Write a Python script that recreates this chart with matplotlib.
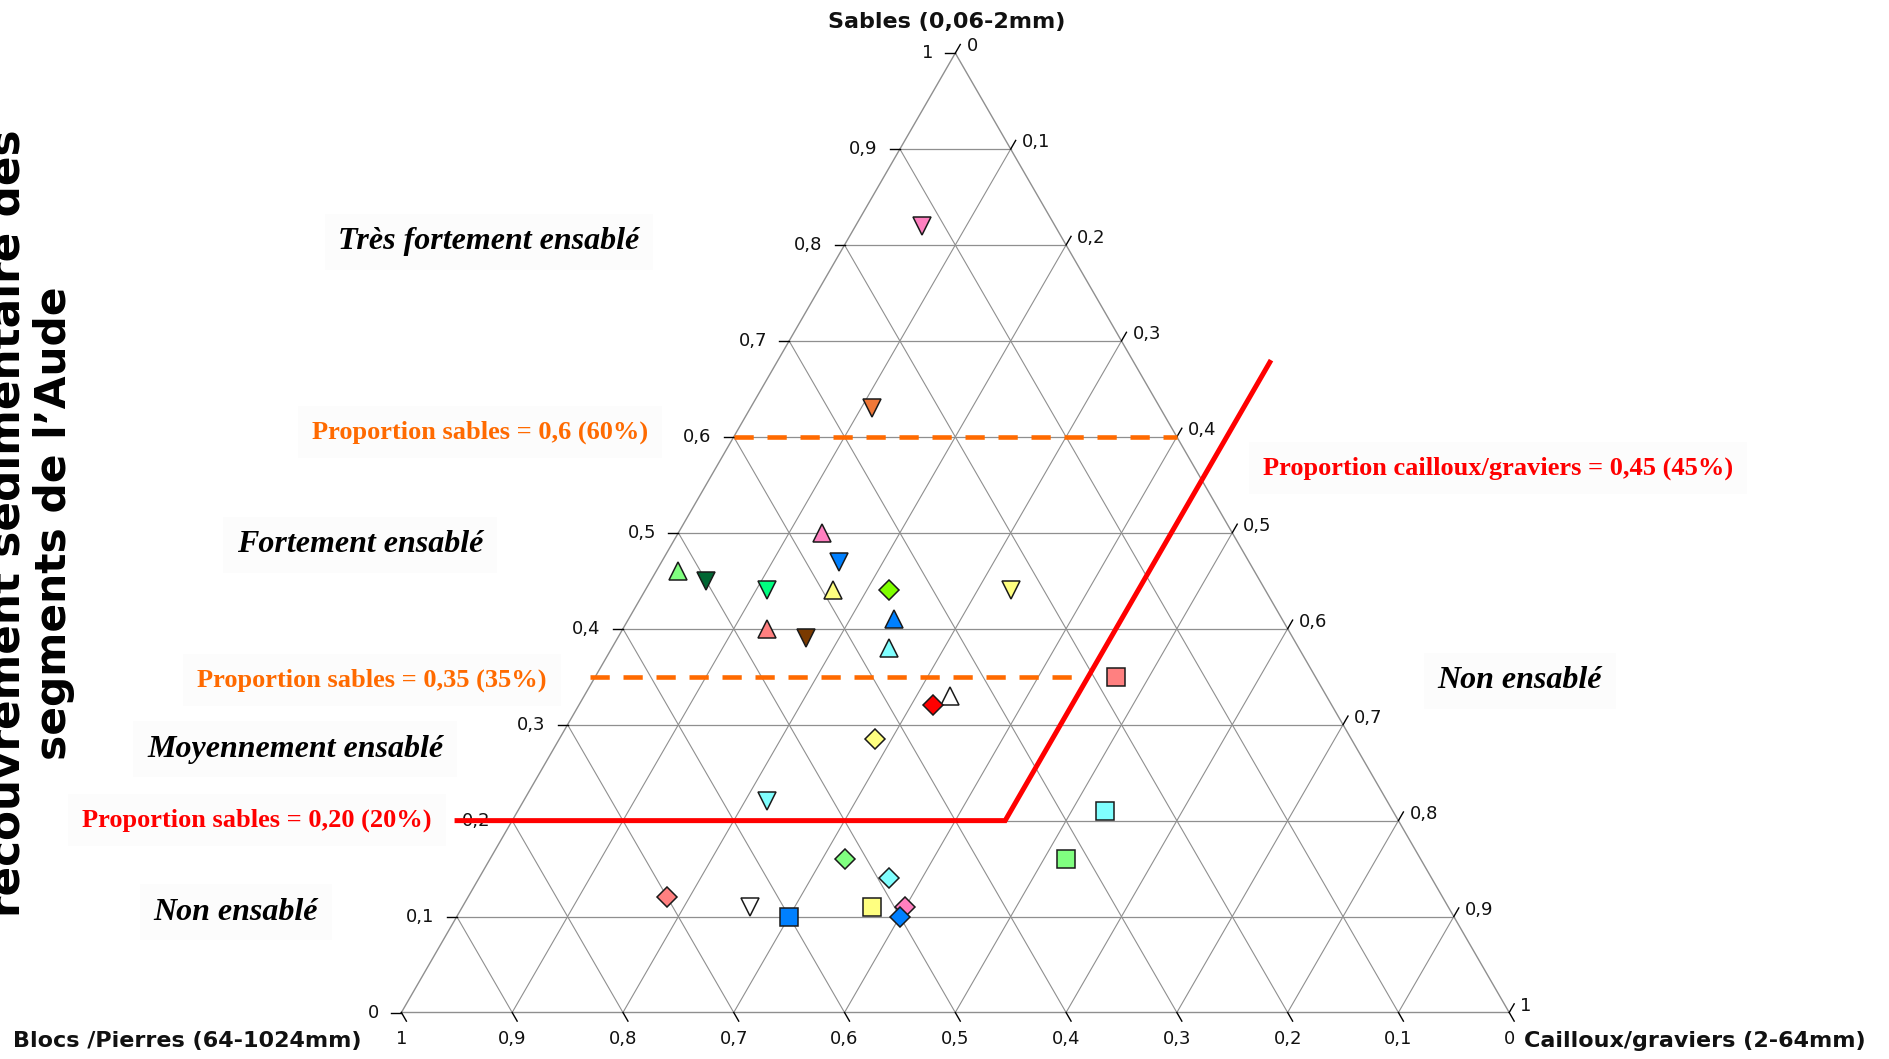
import numpy as np
import matplotlib
matplotlib.use("Agg")
import matplotlib.pyplot as plt

# ---------------- data ----------------
sables   = [0.82, 0.63, 0.50, 0.47, 0.46, 0.45, 0.44, 0.44, 0.44, 0.44,
            0.40, 0.39, 0.41, 0.38, 0.33, 0.32, 0.285, 0.35, 0.22, 0.21,
            0.16, 0.16, 0.14, 0.12, 0.11, 0.10, 0.11, 0.11, 0.10]
cailloux = [0.06, 0.11, 0.13, 0.16, 0.02, 0.05, 0.11, 0.17, 0.22, 0.33,
            0.13, 0.17, 0.24, 0.25, 0.33, 0.32, 0.285, 0.47, 0.22, 0.53,
            0.32, 0.52, 0.37, 0.18, 0.26, 0.30, 0.37, 0.40, 0.40]
blocs    = [0.12, 0.26, 0.37, 0.37, 0.52, 0.50, 0.45, 0.39, 0.34, 0.23,
            0.47, 0.44, 0.35, 0.37, 0.34, 0.36, 0.43, 0.18, 0.56, 0.26,
            0.52, 0.32, 0.49, 0.70, 0.63, 0.60, 0.52, 0.49, 0.50]
markers  = ['v', 'v', '^', 'v', '^', 'v', 'v', '^', 'D', 'v',
            '^', 'v', '^', '^', '^', 'D', 'D', 's', 'v', 's',
            'D', 's', 'D', 'D', 'v', 's', 's', 'D', 'D']
colors   = ['#FF80C0', '#F07838', '#FF80C0', '#0080FF', '#80FF80', '#006633',
            '#00FF80', '#FFFF80', '#80FF00', '#FFFF80', '#FF8080', '#7A3A00',
            '#0080FF', '#80FFFF', '#FFFFFF', '#FF0000', '#FFFF80', '#FF8080',
            '#80FFFF', '#80FFFF', '#80FF80', '#80FF80', '#80FFFF', '#FF8080',
            '#FFFFFF', '#0080FF', '#FFFF80', '#FF80C0', '#0080FF']

axis_values = [0.0, 0.1, 0.2, 0.3, 0.4, 0.5, 0.6, 0.7, 0.8, 0.9, 1.0]
axis_labels = ["0", "0,1", "0,2", "0,3", "0,4", "0,5", "0,6", "0,7", "0,8", "0,9", "1"]

sable_thresholds = [0.6, 0.35, 0.20]
cailloux_threshold = 0.45

# ---------------- helpers ----------------
H = np.sqrt(3) / 2


def tern(s, c):
    s = np.asarray(s, float)
    c = np.asarray(c, float)
    return c + s / 2.0, s * H


W_PX, H_PX = 1890, 1059
ORIG_X, ORIG_Y, SCALE = 401.4, 1012.5, 1107.8

fig = plt.figure(figsize=(W_PX / 100, H_PX / 100), dpi=100)
fig.patch.set_facecolor('white')
ax = fig.add_axes([0, 0, 1, 1])
ax.set_xlim(-ORIG_X / SCALE, (W_PX - ORIG_X) / SCALE)
ax.set_ylim((ORIG_Y - H_PX) / SCALE, ORIG_Y / SCALE)
ax.axis('off')


def fp(px, py):
    return px / W_PX, 1 - py / H_PX


GRID = '#8f8f8f'
# grid lines
for v in axis_values[1:-1]:
    x0, y0 = tern(v, 0)
    x1, y1 = tern(v, 1 - v)
    ax.plot([x0, x1], [y0, y1], color=GRID, lw=0.9, zorder=1)
    x0, y0 = tern(0, v)
    x1, y1 = tern(1 - v, v)
    ax.plot([x0, x1], [y0, y1], color=GRID, lw=0.8, zorder=1)
    x0, y0 = tern(0, 1 - v)
    x1, y1 = tern(1 - v, 0)
    ax.plot([x0, x1], [y0, y1], color=GRID, lw=0.8, zorder=1)
ox, oy = tern([0, 0, 1, 0], [0, 1, 0, 0])
ax.plot(ox, oy, color=GRID, lw=1.0, zorder=1)

# ticks and tick labels
L = 0.009
tick_font = dict(family='DejaVu Sans', fontsize=13, color='#111111')
for v, lab in zip(axis_values, axis_labels):
    x, y = tern(v, 0)
    ax.plot([x - L, x], [y, y], color='black', lw=1.0, zorder=2)
    ax.text(x - 0.020, y, lab, ha='right', va='center', **tick_font)
    x, y = tern(1 - v, v)
    ax.plot([x, x + 0.5 * L], [y, y + H * L], color='black', lw=1.0, zorder=2)
    ax.text(x + 0.010, y + 0.006, lab, ha='left', va='center', **tick_font)
    x, y = tern(0, 1 - v)
    ax.plot([x, x + 0.5 * L], [y, y - H * L], color='black', lw=1.0, zorder=2)
    ax.text(x, -0.024, lab, ha='center', va='center', **tick_font)

# threshold lines
ORANGE = '#FF6A00'
RED = '#FF0000'
s6 = sable_thresholds[0]
x0, y0 = tern(s6, 0)
x1, y1 = tern(s6, 1 - s6)
ax.plot([x0, x1], [y0, y1], color=ORANGE, lw=3.3, dashes=(4.2, 3.0), zorder=3)
s35 = sable_thresholds[1]
x0, y0 = tern(s35, -0.005)
x1, y1 = tern(s35, cailloux_threshold - 0.01)
ax.plot([x0, x1], [y0, y1], color=ORANGE, lw=3.3, dashes=(4.2, 3.0), zorder=3)
s20 = sable_thresholds[2]
xa, ya = tern(s20, -0.052)
xb, yb = tern(s20, cailloux_threshold - 0.005)
xc, yc = tern(0.68, cailloux_threshold - 0.005)
ax.plot([xa, xb, xc], [ya, yb, yc], color=RED, lw=3.6, zorder=3,
        solid_joinstyle='miter', solid_capstyle='butt')

# data points
px, py = tern(sables, cailloux)
sizes = {'^': 13.5, 'v': 13.5, 's': 13.5, 'D': 9.8}
for xi, yi, m, col in zip(px, py, markers, colors):
    ax.plot(xi, yi, marker=m, ms=sizes[m], mfc=col, mec='#1a1a1a',
            mew=1.1, ls='none', zorder=4)

# axis titles
title_font = dict(family='DejaVu Sans', fontweight='bold', fontsize=16, color='#111111')
ax.text(*fp(947, 22), "Sables (0,06-2mm)", transform=fig.transFigure,
        ha='center', va='center', **title_font)
ax.text(*fp(13, 1041), "Blocs /Pierres (64-1024mm)", transform=fig.transFigure,
        ha='left', va='center', **title_font)
ax.text(*fp(1524, 1041), "Cailloux/graviers (2-64mm)", transform=fig.transFigure,
        ha='left', va='center', **title_font)

# annotation texts
box = dict(facecolor='#FCFCFC', edgecolor='none', pad=10)
cls = dict(family='Liberation Serif', fontweight='bold', fontstyle='italic',
           fontsize=23, color='black')
prop = dict(family='Liberation Serif', fontweight='bold', fontsize=19)
ax.text(*fp(489, 242), "Très fortement ensablé", transform=fig.transFigure,
        ha='center', va='center', bbox=box, **cls)
ax.text(*fp(360, 545), "Fortement ensablé", transform=fig.transFigure,
        ha='center', va='center', bbox=box, **cls)
ax.text(*fp(295, 749), "Moyennement ensablé", transform=fig.transFigure,
        ha='center', va='center', bbox=box, **cls)
ax.text(*fp(236, 912), "Non ensablé", transform=fig.transFigure,
        ha='center', va='center', bbox=box, **cls)
ax.text(*fp(1520, 681), "Non ensablé", transform=fig.transFigure,
        ha='center', va='center', bbox=box, **cls)

ax.text(*fp(480, 432), "Proportion sables = 0,6 (60%)", transform=fig.transFigure,
        ha='center', va='center', color=ORANGE, bbox=box, **prop)
ax.text(*fp(372, 680), "Proportion sables = 0,35 (35%)", transform=fig.transFigure,
        ha='center', va='center', color=ORANGE, bbox=box, **prop)
ax.text(*fp(257, 820), "Proportion sables = 0,20 (20%)", transform=fig.transFigure,
        ha='center', va='center', color=RED, bbox=box, **prop)
ax.text(*fp(1498, 468), "Proportion cailloux/graviers = 0,45 (45%)",
        transform=fig.transFigure, ha='center', va='center', color=RED,
        bbox=box, **prop)

# left rotated title (partly cut by the figure edge, as in the original)
lt = dict(family='DejaVu Sans', fontweight='bold', color='black',
          rotation=90, rotation_mode='anchor', ha='center', va='baseline',
          transform=fig.transFigure)
ax.text(*fp(20, 523), "recouvrement sédimentaire des", fontsize=31.5, **lt)
ax.text(*fp(66, 523), "segments de l’Aude", fontsize=30.5, **lt)

fig.savefig("out.png", dpi=100, facecolor='white')
